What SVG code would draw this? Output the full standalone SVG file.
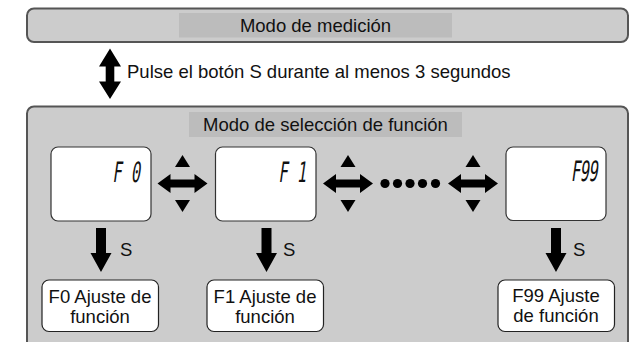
<svg xmlns="http://www.w3.org/2000/svg" width="643" height="342" viewBox="0 0 643 342">
<style>
  .frame { fill: #cccccc; stroke: #555555; stroke-width: 2; }
  .band { fill: #bcbcbc; }
  .lcd { fill: #ffffff; stroke: #333333; stroke-width: 1.2; }
  .result { fill: #ffffff; stroke: #222222; stroke-width: 1.2; }
  .t { font-family: "Liberation Sans", Arial, sans-serif; font-size: 18.5px; fill: #111111; }
  .c { text-anchor: middle; }
  .seg { font-family: "DejaVu Sans Mono", monospace; font-size: 28px; fill: #111111; text-anchor: end; }
  .ar { fill: #000000; }
</style>
<defs>
  <g id="cross">
    <path d="M-25,0 L-12,-9.5 L-12,-4 L12,-4 L12,-9.5 L25,0 L12,9.5 L12,4 L-12,4 L-12,9.5 Z"/>
    <path d="M-7.5,-16.5 L0,-28.5 L7.5,-16.5 Z"/>
    <path d="M-7.5,16.5 L0,28.5 L7.5,16.5 Z"/>
  </g>
  <path id="down" d="M-5,0 L5,0 L5,25 L10.5,25 L0,44 L-10.5,25 L-5,25 Z"/>
</defs>

<g id="measure-mode">
  <rect class="frame" x="27" y="8.5" width="601" height="33.5" rx="7"/>
  <rect class="band" x="179" y="13" width="273" height="24.5"/>
  <text class="t c" x="315.5" y="31.5">Modo de medición</text>
</g>

<g id="select-mode">
  <rect class="frame" x="27" y="106.5" width="601" height="250" rx="7"/>
  <rect class="band" x="189" y="112" width="273" height="25"/>
  <text class="t c" x="325.5" y="130.5">Modo de selección de función</text>
</g>

<g id="lcd-f0">
  <rect class="lcd" x="51" y="147" width="100" height="74" rx="7"/>
  <text class="seg" transform="translate(140,182) skewX(-8) scale(0.55,1)">F 0</text>
</g>
<g id="lcd-f1">
  <rect class="lcd" x="215.5" y="147" width="100.5" height="74" rx="7"/>
  <text class="seg" transform="translate(306,182) skewX(-8) scale(0.55,1)">F 1</text>
</g>
<g id="lcd-f99">
  <rect class="lcd" x="506" y="147" width="100" height="73.5" rx="7"/>
  <text class="seg" transform="translate(597,181) skewX(-8) scale(0.55,1)" letter-spacing="-1">F99</text>
</g>

<g id="result-f0">
  <rect class="result" x="42" y="280" width="116.5" height="51.5" rx="7"/>
  <text class="t c" x="100" y="302.5">F0 Ajuste de</text>
  <text class="t c" x="100" y="322.5">función</text>
</g>
<g id="result-f1">
  <rect class="result" x="207" y="280" width="116.5" height="51.5" rx="7"/>
  <text class="t c" x="265" y="302.5">F1 Ajuste de</text>
  <text class="t c" x="265" y="322.5">función</text>
</g>
<g id="result-f99">
  <rect class="result" x="498" y="280" width="116.5" height="51.5" rx="7"/>
  <text class="t c" x="556" y="302">F99 Ajuste</text>
  <text class="t c" x="556" y="322">de función</text>
</g>

<g id="connectors">
  <path class="ar" d="M110,48.5 L121,66.5 L114.3,66.5 L114.3,81.5 L121,81.5 L110,99 L99,81.5 L105.7,81.5 L105.7,66.5 L99,66.5 Z"/>
  <text class="t" x="127" y="77.5">Pulse el botón S durante al menos 3 segundos</text>

  <use href="#cross" class="ar" x="182.5" y="183.5"/>
  <use href="#cross" class="ar" x="348" y="183.5"/>
  <use href="#cross" class="ar" x="473" y="183.5"/>
  <g class="ar">
    <circle cx="385" cy="183.5" r="4.6"/>
    <circle cx="397.5" cy="183.5" r="4.6"/>
    <circle cx="410" cy="183.5" r="4.6"/>
    <circle cx="422.5" cy="183.5" r="4.6"/>
    <circle cx="435.5" cy="183.5" r="4.6"/>
  </g>

  <use href="#down" class="ar" x="101" y="228"/>
  <use href="#down" class="ar" x="266.5" y="228"/>
  <use href="#down" class="ar" x="556" y="228"/>
  <text class="t" x="120" y="256">S</text>
  <text class="t" x="283" y="256">S</text>
  <text class="t" x="573" y="256">S</text>
</g>
</svg>
